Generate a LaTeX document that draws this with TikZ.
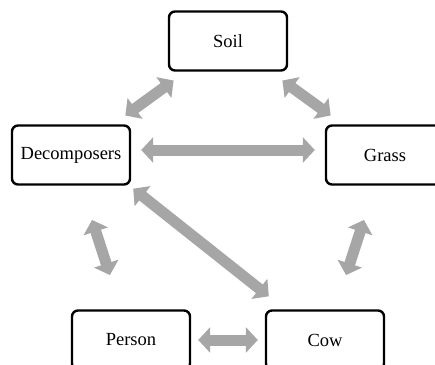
\documentclass[tikz,border=0pt]{standalone}
\usepackage{fontspec}
\setmainfont{Liberation Serif}
\usetikzlibrary{positioning,arrows.meta}
\definecolor{flowgray}{RGB}{166,166,166}

\begin{document}
\begin{tikzpicture}[x=1pt,y=1pt,on grid,
    box/.style={draw,line width=2.4pt,rounded corners=6pt,minimum width=118pt,
      minimum height=59pt,font=\fontsize{18.5}{22}\selectfont},
    flow/.style={{Triangle[width=25pt,length=12pt]}-{Triangle[width=25pt,length=12pt]},
      line width=11pt,draw=flowgray},
    gap/.style={shorten <=#1,shorten >=#1}]
  \clip (0,0) rectangle (435,-364);
  \node[box] (soil) at (228,-41) {Soil};
  \node[box] (dec) [below left=114pt and 157pt of soil] {Decomposers};
  \node[box] (grass) [right=314pt of dec] {Grass};
  \node[box] (person) [below right=185pt and 60pt of dec] {Person};
  \node[box] (cow) [right=194pt of person] {Cow};
  \path
    (soil) edge[flow,gap=15pt] (dec)
    (soil) edge[flow,gap=15pt] (grass)
    ([yshift=5pt]dec.east) edge[flow,gap=10pt] ([yshift=5pt]grass.west)
    (dec) edge[flow,gap=36pt] (person)
    (grass) edge[flow,gap=36pt] (cow)
    ([shift={(2pt,-3pt)}]dec.south east) edge[flow] ([shift={(4pt,13pt)}]cow.north west)
    (person) edge[flow,gap=7pt] (cow);
\end{tikzpicture}
\end{document}
